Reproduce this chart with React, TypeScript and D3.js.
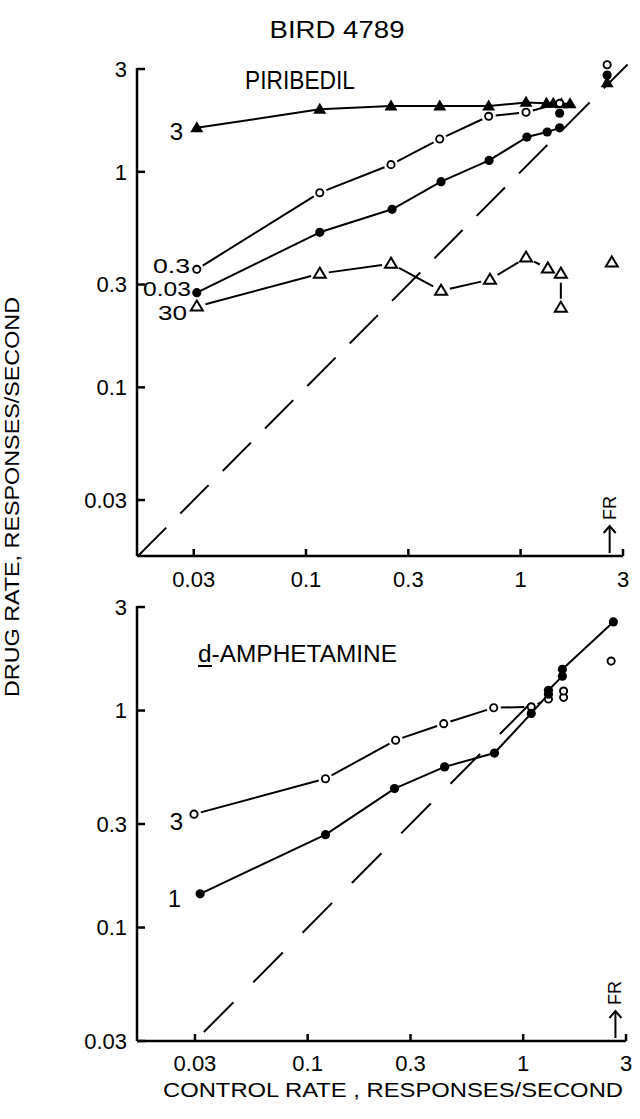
import React from "react";
import * as d3 from "d3";

const TITLE = "BIRD 4789";
const X_TITLE = "CONTROL RATE , RESPONSES/SECOND";
const Y_TITLE = "DRUG RATE, RESPONSES/SECOND";
const TICK_VALUES = [0.03, 0.1, 0.3, 1, 3];
const TICK_LABELS = ["0.03", "0.1", "0.3", "1", "3"];

// Top panel: PIRIBEDIL
const piri3X = [0.031, 0.116, 0.249, 0.42, 0.71, 1.06, 1.32, 1.42, 1.55, 1.7];
const piri3Y = [1.6, 1.95, 2.02, 2.02, 2.02, 2.1, 2.08, 2.08, 2.07, 2.07];
const piri03X = [0.031, 0.116, 0.249, 0.42, 0.71, 1.06, 1.52];
const piri03Y = [0.353, 0.8, 1.08, 1.42, 1.81, 1.89, 2.08];
const piri003X = [0.031, 0.116, 0.252, 0.426, 0.713, 1.07, 1.33, 1.52];
const piri003Y = [0.275, 0.524, 0.67, 0.9, 1.13, 1.45, 1.53, 1.6];
const piri30X = [0.031, 0.116, 0.249, 0.426, 0.72, 1.06, 1.34, 1.54, 1.54];
const piri30Y = [0.237, 0.337, 0.375, 0.281, 0.316, 0.4, 0.356, 0.337, 0.234];
const piriExtra003X = [1.52];
const piriExtra003Y = [1.87];
// FR points (control rate off-scale)
const piriFRX = [2.53, 2.53, 2.53, 2.66];
const piriFRY = [3.14, 2.81, 2.59, 0.38]; // 0.3, 0.03, 3, 30
const piriDoseLabels = ["3", "0.3", "0.03", "30"];

// Bottom panel: d-AMPHETAMINE
const amph1X = [0.0317, 0.121, 0.253, 0.432, 0.736, 1.09, 1.31, 1.31, 1.52, 1.52, 2.62];
const amph1Y = [0.143, 0.268, 0.437, 0.55, 0.637, 0.97, 1.19, 1.24, 1.44, 1.55, 2.56];
const amph3X = [0.0297, 0.121, 0.256, 0.428, 0.73, 1.09, 1.31, 1.54, 1.54];
const amph3Y = [0.333, 0.485, 0.73, 0.87, 1.03, 1.04, 1.13, 1.15, 1.23];
const amph3FRX = [2.56];
const amph3FRY = [1.69];
const amphDoseLabels = ["3", "1"];

const FONT = "'Liberation Sans', Arial, Helvetica, sans-serif";

type P = [number, number];

function segs(pts: P[], g: number) {
  const out: JSX.Element[] = [];
  for (let i = 0; i < pts.length - 1; i++) {
    const [x1, y1] = pts[i];
    const [x2, y2] = pts[i + 1];
    const dx = x2 - x1, dy = y2 - y1;
    const len = Math.hypot(dx, dy);
    if (len <= 2 * g + 2) continue;
    const ux = dx / len, uy = dy / len;
    out.push(
      <line key={i} x1={x1 + ux * g} y1={y1 + uy * g} x2={x2 - ux * g} y2={y2 - uy * g}
        stroke="#000" strokeWidth={2} />
    );
  }
  return out;
}

function tri(x: number, y: number, w: number, h: number) {
  return `M${x},${y - h * 0.6}L${x + w / 2},${y + h * 0.4}L${x - w / 2},${y + h * 0.4}Z`;
}

function Panel(props: {
  xs: d3.ScaleLogarithmic<number, number>;
  ys: d3.ScaleLogarithmic<number, number>;
  axisX: number;
  dashFrom: number;
  dashTo: number;
  dash: string;
  frX: number;
  labelDy: number;
  children?: React.ReactNode;
}) {
  const { xs, ys, axisX, dashFrom, dashTo, dash, frX, labelDy } = props;
  const [yb] = ys.range();
  const yt = ys(3);
  const xr = xs.range()[1];
  const fx = xs(frX);
  return (
    <g>
      {/* identity line */}
      <line x1={xs(dashFrom)} y1={ys(dashFrom)} x2={xs(dashTo)} y2={ys(dashTo)}
        stroke="#000" strokeWidth={2} strokeDasharray={dash} />
      {/* axes */}
      <line x1={axisX} y1={yt - 1} x2={axisX} y2={yb} stroke="#000" strokeWidth={2.5} />
      <line x1={axisX} y1={yb} x2={xr} y2={yb} stroke="#000" strokeWidth={2.5} />
      {TICK_VALUES.map((v, i) => (
        <g key={"yt" + i}>
          <line x1={axisX} x2={axisX + 8} y1={ys(v)} y2={ys(v)} stroke="#000" strokeWidth={2.5} />
          <text x={127} y={ys(v)} dy="0.36em" textAnchor="end" fontSize={22} fontFamily={FONT}>
            {TICK_LABELS[i]}
          </text>
        </g>
      ))}
      {TICK_VALUES.map((v, i) => (
        <g key={"xt" + i}>
          <line x1={xs(v)} x2={xs(v)} y1={yb} y2={yb - 7} stroke="#000" strokeWidth={2.5} />
          <text x={xs(v)} y={yb + labelDy} textAnchor="middle" fontSize={22} fontFamily={FONT}>
            {TICK_LABELS[i]}
          </text>
        </g>
      ))}
      {/* FR arrow */}
      <line x1={fx} x2={fx} y1={yb - 29} y2={yb - 3} stroke="#000" strokeWidth={2} />
      <path d={`M${fx - 6},${yb - 23}L${fx},${yb - 30}L${fx + 6},${yb - 23}`} fill="none" stroke="#000" strokeWidth={2} />
      <text transform={`translate(${fx + 6},${yb - 48}) rotate(-90)`} textAnchor="middle"
        fontSize={18} fontFamily={FONT}>FR</text>
      {props.children}
    </g>
  );
}

export default function App() {
  const xTop = d3.scaleLog().domain([0.0165, 3]).range([138, 623]);
  const yTop = d3.scaleLog().domain([0.0165, 3]).range([556, 69]);
  const xBot = d3.scaleLog().domain([0.0165, 3]).range([139, 626]);
  const yBot = d3.scaleLog().domain([0.03, 3]).range([1041, 607]);

  const pts = (xs: any, ys: any, X: number[], Y: number[]): P[] => X.map((x, i) => [xs(x), ys(Y[i])]);

  const p3 = pts(xTop, yTop, piri3X, piri3Y);
  const p03 = pts(xTop, yTop, piri03X, piri03Y);
  const p003 = pts(xTop, yTop, piri003X, piri003Y);
  const p30 = pts(xTop, yTop, piri30X, piri30Y);
  const pExtra = pts(xTop, yTop, piriExtra003X, piriExtra003Y);
  const pFR = pts(xTop, yTop, piriFRX, piriFRY);

  const a1 = pts(xBot, yBot, amph1X, amph1Y);
  const a3 = pts(xBot, yBot, amph3X, amph3Y);
  const a3FR = pts(xBot, yBot, amph3FRX, amph3FRY);

  const openCircle = (p: P, k: string) => (
    <circle key={k} cx={p[0]} cy={p[1]} r={3.6} fill="#fff" stroke="#000" strokeWidth={1.9} />
  );
  const filledCircle = (p: P, k: string) => (
    <circle key={k} cx={p[0]} cy={p[1]} r={4.6} fill="#000" />
  );
  const filledTri = (p: P, k: string) => (
    <path key={k} d={tri(p[0], p[1], 13, 11)} fill="#000" />
  );
  const openTri = (p: P, k: string) => (
    <path key={k} d={tri(p[0], p[1], 12, 10)} fill="#fff" stroke="#000" strokeWidth={2} />
  );

  return (
    <svg width={640} height={1119} viewBox="0 0 640 1119"
      style={{ position: "absolute", left: 0, top: 0, background: "#fff" }}>
      <rect x={0} y={0} width={640} height={1119} fill="#fff" />
      <text x={337} y={38} textAnchor="middle" fontSize={24} fontFamily={FONT}
        textLength={135} lengthAdjust="spacingAndGlyphs">{TITLE}</text>

      {/* TOP PANEL */}
      <Panel xs={xTop} ys={yTop} axisX={137} dashFrom={0.0165} dashTo={3.15} dash="40,20" frX={2.6} labelDy={31}>
        <text x={245} y={89} fontSize={25} fontFamily={FONT} textLength={110}
          lengthAdjust="spacingAndGlyphs">PIRIBEDIL</text>
        {segs(p3, 0)}
        {segs(p03, 7)}
        {segs(p003, 0)}
        {segs(p30, 9)}
        {p3.map((p, i) => filledTri(p, "t3" + i))}
        {p03.map((p, i) => openCircle(p, "c03" + i))}
        {p003.map((p, i) => filledCircle(p, "c003" + i))}
        {pExtra.map((p, i) => filledCircle(p, "ex" + i))}
        {p30.map((p, i) => openTri(p, "t30" + i))}
        {openCircle(pFR[0], "fr0")}
        {filledCircle(pFR[1], "fr1")}
        {filledTri(pFR[2], "fr2")}
        {openTri(pFR[3], "fr3")}
        <text x={183} y={140} textAnchor="end" fontSize={24} fontFamily={FONT}>{piriDoseLabels[0]}</text>
        <text x={190} y={273} textAnchor="end" fontSize={20} fontFamily={FONT}
          textLength={37} lengthAdjust="spacingAndGlyphs">{piriDoseLabels[1]}</text>
        <text x={191} y={296} textAnchor="end" fontSize={20} fontFamily={FONT}
          textLength={48} lengthAdjust="spacingAndGlyphs">{piriDoseLabels[2]}</text>
        <text x={187} y={320} textAnchor="end" fontSize={20} fontFamily={FONT}
          textLength={29} lengthAdjust="spacingAndGlyphs">{piriDoseLabels[3]}</text>
      </Panel>

      {/* BOTTOM PANEL */}
      <Panel xs={xBot} ys={yBot} axisX={137} dashFrom={0.033} dashTo={1.2} dash="42,28" frX={2.68} labelDy={30}>
        <text x={198} y={662} fontSize={23} fontFamily={FONT} textLength={199}
          lengthAdjust="spacingAndGlyphs">d-AMPHETAMINE</text>
        <line x1={198} x2={212} y1={666} y2={666} stroke="#000" strokeWidth={2} />
        {segs(a3, 7)}
        {segs(a1, 0)}
        {a3.map((p, i) => openCircle(p, "b3" + i))}
        {a3FR.map((p, i) => openCircle(p, "b3fr" + i))}
        {a1.map((p, i) => filledCircle(p, "b1" + i))}
        <text x={183} y={830} textAnchor="end" fontSize={24} fontFamily={FONT}>{amphDoseLabels[0]}</text>
        <text x={181} y={907} textAnchor="end" fontSize={24} fontFamily={FONT}>{amphDoseLabels[1]}</text>
      </Panel>

      <text x={393} y={1097} textAnchor="middle" fontSize={21} fontFamily={FONT}
        textLength={460} lengthAdjust="spacingAndGlyphs">{X_TITLE}</text>
      <text transform="translate(19,497) rotate(-90)" textAnchor="middle" fontSize={21}
        fontFamily={FONT} textLength={400} lengthAdjust="spacingAndGlyphs">{Y_TITLE}</text>
    </svg>
  );
}
